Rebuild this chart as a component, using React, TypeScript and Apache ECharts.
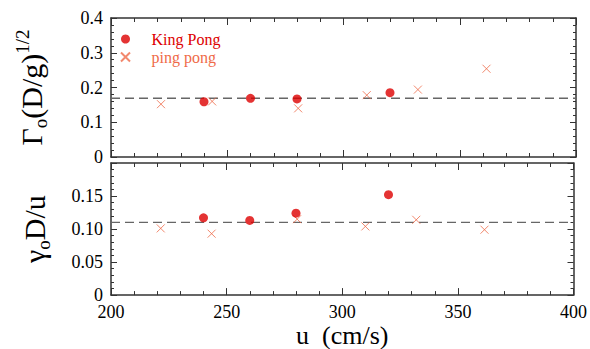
import React, { useEffect, useRef } from "react";
import * as echarts from "echarts";

// ---- data ----
const uKing = [240, 260, 280, 320];
const kingTop = [0.159, 0.169, 0.167, 0.185];
const kingBottom = [0.117, 0.113, 0.124, 0.152];
const uPing = [221.5, 243.5, 280.5, 310, 332, 361.5];
const pingTop = [0.152, 0.16, 0.14, 0.178, 0.194, 0.254];
const pingBottom = [0.101, 0.093, 0.115, 0.104, 0.114, 0.099];
const refTop = 0.169;
const refBottom = 0.11;
const uRange = [200, 400];
const seriesNames = ["King Pong", "ping pong"];

const FONT = "Liberation Serif";
const RED = "#dd0000";
const SALMON = "#ef6a48";
const AXIS = "#333";
const CROSS = "path://M0,0L10,10M0,10L10,0";

const titleRich = {
  m: { fontFamily: FONT, fontSize: 30, lineHeight: 37, color: "#000" },
  s: { fontFamily: FONT, fontSize: 19, lineHeight: 13, verticalAlign: "bottom", color: "#000" },
  p: { fontFamily: FONT, fontSize: 19, lineHeight: 9, verticalAlign: "top", color: "#000" },
};

export default function App() {
  const ref = useRef<HTMLDivElement>(null);
  useEffect(() => {
    if (!ref.current) return;
    const chart = echarts.init(ref.current, undefined, { renderer: "svg" });

    const grids = [
      { left: 111, top: 18, width: 465, height: 139 },
      { left: 111, top: 163, width: 465, height: 139 },
    ];

    const xAxisBase = (gridIndex: number, position: string, showLabels: boolean) => ({
      type: "value",
      gridIndex,
      position,
      min: 200,
      max: 400,
      interval: 50,
      axisLine: { show: true, onZero: false, lineStyle: { color: AXIS, width: 1.5 } },
      axisTick: { show: true, inside: true, length: 7, lineStyle: { color: AXIS, width: 1 } },
      minorTick: { show: true, splitNumber: 5, length: 4, lineStyle: { color: AXIS, width: 1 } },
      splitLine: { show: false },
      axisLabel: {
        show: showLabels,
        margin: 8,
        fontFamily: FONT,
        fontSize: 18,
        color: "#000",
      },
    });

    const yAxisBase = (
      gridIndex: number,
      position: string,
      showLabels: boolean,
      max: number,
      interval: number,
      digits: number
    ) => ({
      type: "value",
      gridIndex,
      position,
      min: 0,
      max,
      interval,
      axisLine: { show: true, onZero: false, lineStyle: { color: AXIS, width: 1.5 } },
      axisTick: { show: true, inside: true, length: 6, lineStyle: { color: AXIS, width: 1 } },
      minorTick: { show: true, splitNumber: 5, length: 3, lineStyle: { color: AXIS, width: 1 } },
      splitLine: { show: false },
      axisLabel: {
        show: showLabels,
        margin: 8,
        fontFamily: FONT,
        fontSize: 18,
        color: "#000",
        showMaxLabel: gridIndex === 0,
        formatter: (v: number) => (v === 0 ? "0" : v.toFixed(digits)),
      },
    });

    const scatterKing = (xi: number, ys: number[]) => ({
      type: "scatter",
      name: seriesNames[0],
      xAxisIndex: xi,
      yAxisIndex: xi,
      symbol: "circle",
      symbolSize: 9,
      itemStyle: { color: RED },
      data: uKing.map((u, i) => [u, ys[i]]),
      z: 5,
    });
    const scatterPing = (xi: number, ys: number[]) => ({
      type: "scatter",
      name: seriesNames[1],
      xAxisIndex: xi,
      yAxisIndex: xi,
      symbol: CROSS,
      symbolSize: 8,
      itemStyle: { color: "rgba(0,0,0,0)", borderColor: SALMON, borderWidth: 1 },
      data: uPing.map((u, i) => [u, ys[i]]),
      z: 4,
    });
    const refLine = (xi: number, y: number) => ({
      type: "line",
      xAxisIndex: xi,
      yAxisIndex: xi,
      symbol: "none",
      silent: true,
      lineStyle: { color: "#666", width: 1.3, type: [9, 5] },
      data: uRange.map((u) => [u, y]),
      z: 2,
    });

    chart.setOption({
      animation: false,
      grid: grids,
      xAxis: [
        xAxisBase(0, "bottom", false),
        {
          ...xAxisBase(1, "bottom", true),
          name: "u  (cm/s)",
          nameLocation: "middle",
          nameGap: 25,
          nameTextStyle: { fontFamily: FONT, fontSize: 26, color: "#000" },
        },
        xAxisBase(0, "top", false),
        xAxisBase(1, "top", false),
      ],
      yAxis: [
        {
          ...yAxisBase(0, "left", true, 0.4, 0.1, 1),
          name: "{m|Γ}{s|o}{m|(D/g)}{p|1/2}",
          nameLocation: "middle",
          nameRotate: 90,
          nameGap: 61,
          nameTextStyle: { rich: titleRich },
        },
        {
          ...yAxisBase(1, "left", true, 0.2, 0.05, 2),
          name: "{m|γ}{s|o}{m|D/u}",
          nameLocation: "middle",
          nameRotate: 90,
          nameGap: 58,
          nameTextStyle: { rich: titleRich },
        },
        yAxisBase(0, "right", false, 0.4, 0.1, 1),
        yAxisBase(1, "right", false, 0.2, 0.05, 2),
      ],
      legend: {
        orient: "vertical",
        left: 120,
        top: 30,
        padding: 0,
        itemWidth: 42,
        itemHeight: 9,
        itemGap: 0,
        data: [
          { name: seriesNames[0], textStyle: { color: RED } },
          { name: seriesNames[1], textStyle: { color: SALMON } },
        ],
        textStyle: { fontFamily: FONT, fontSize: 16, lineHeight: 18 },
      },
      series: [
        refLine(0, refTop),
        refLine(1, refBottom),
        scatterKing(0, kingTop),
        scatterPing(0, pingTop),
        scatterKing(1, kingBottom),
        scatterPing(1, pingBottom),
      ],
    });
    return () => chart.dispose();
  }, []);
  return (
    <div
      ref={ref}
      style={{ position: "fixed", left: 0, top: 0, width: 590, height: 349, background: "#fff" }}
    />
  );
}
